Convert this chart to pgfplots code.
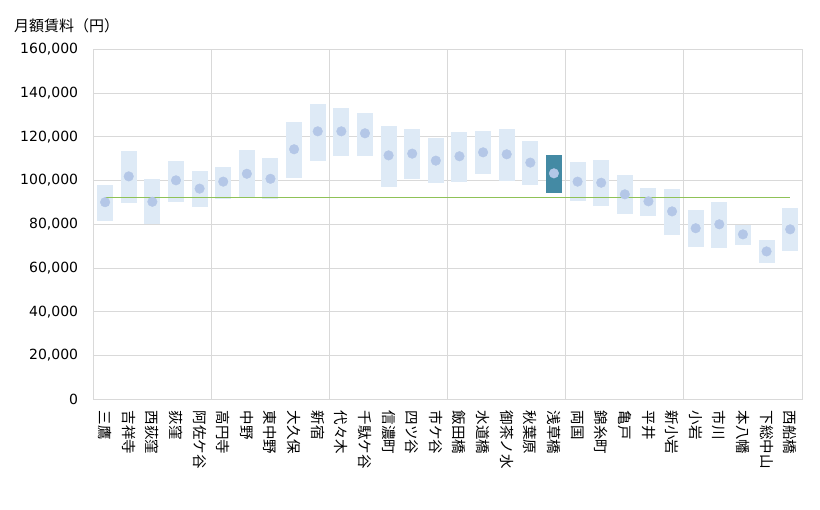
\documentclass[border=0pt]{standalone}
\usepackage{pgfplots}
\pgfplotsset{compat=1.18}
\usepackage{pgfplotstable}
\usepackage{fontspec}
\setmainfont{DejaVu Sans}
\newfontfamily\cjk{Noto Sans CJK JP}

\definecolor{barlight}{HTML}{DEEAF6}
\definecolor{dotblue}{HTML}{B4C7E7}
\definecolor{hibar}{HTML}{448AA4}
\definecolor{avgline}{HTML}{8FC257}
\definecolor{gridgray}{HTML}{D9D9D9}

%% lo / hi = range of rents, mean = dot
\pgfplotstableread{
x lo hi mean
0 81600 98000 90100
1 89900 113500 101900
2 80000 100700 90300
3 90300 108900 100100
4 88000 104400 96300
5 91700 106200 99500
6 92300 114000 103100
7 91700 110300 100800
8 101300 126800 114300
9 108900 135000 122500
10 111400 133200 122500
11 111400 130900 121600
12 97100 124900 111500
13 100700 123600 112300
14 99000 119400 109100
15 99300 122200 111100
16 103100 122700 112900
17 99900 123600 112000
18 98100 117900 108200
20 90800 108500 99500
21 88500 109400 99000
22 84800 102500 93700
23 83900 96600 90500
24 75200 96100 85900
25 69800 86500 78200
26 69300 90200 80000
27 70700 79800 75400
28 62400 72800 67600
29 67900 87500 77700
}\rent

%% highlighted station
\pgfplotstableread{
x lo hi mean
19 94400 111700 103300
}\hilite

\begin{document}
\begin{tikzpicture}
\path[use as bounding box] (0,0) rectangle (820pt,510pt);
\node[anchor=west, inner sep=0pt, font=\cjk\fontsize{15}{15}\selectfont] at (14pt,484pt) {月額賃料（円）};
\begin{axis}[
    at={(93.3pt,110.7pt)}, anchor=south west,
    scale only axis, width=708.7pt, height=350pt,
    xmin=-0.5, xmax=29.5,
    ymin=0, ymax=160000,
    xtick={0,...,29},
    xticklabels={三鷹,吉祥寺,西荻窪,荻窪,阿佐ケ谷,高円寺,中野,東中野,大久保,新宿,代々木,千駄ケ谷,信濃町,四ツ谷,市ケ谷,飯田橋,水道橋,御茶ノ水,秋葉原,浅草橋,両国,錦糸町,亀戸,平井,新小岩,小岩,市川,本八幡,下総中山,西船橋},
    minor xtick={4.5,9.5,14.5,19.5,24.5},
    xminorgrids=true,
    ytick={0,20000,...,160000},
    ymajorgrids=true,
    major tick length=0pt, minor tick length=0pt,
    grid style={gridgray, line width=0.8pt},
    minor grid style={gridgray, line width=0.8pt},
    axis line style={gridgray, line width=0.8pt},
    scaled y ticks=false,
    yticklabel style={/pgf/number format/fixed, /pgf/number format/1000 sep={,},
        /pgf/number format/assume math mode=true,
        font=\fontsize{14}{14}\selectfont, inner sep=0pt},
    yticklabel shift=15pt,
    xticklabel style={font=\cjk\fontsize{14.5}{14.5}\selectfont, rotate=-90, anchor=west, inner sep=0pt, xshift=1.5pt},
    xticklabel shift=10pt,
]
%% range bars
\addplot[draw=none, mark=none, forget plot,
    error bars/.cd, y dir=both, y explicit, error mark=none,
    error bar style={draw=barlight, line width=16pt}]
    table[x=x, y=mean, y error plus expr=\thisrow{hi}-\thisrow{mean}, y error minus expr=\thisrow{mean}-\thisrow{lo}] {\rent};
\addplot[draw=none, mark=none, forget plot,
    error bars/.cd, y dir=both, y explicit, error mark=none,
    error bar style={draw=hibar, line width=16pt}]
    table[x=x, y=mean, y error plus expr=\thisrow{hi}-\thisrow{mean}, y error minus expr=\thisrow{mean}-\thisrow{lo}] {\hilite};
%% means
\addplot[only marks, mark=*, mark size=4.8pt, color=dotblue]
    table[x=x, y=mean] {\rent};
\addplot[only marks, mark=*, mark size=4.8pt, color=dotblue]
    table[x=x, y=mean] {\hilite};
%% overall average
\addplot[avgline, line width=1.3pt, mark=none] coordinates {(0,92300) (29,92300)};
\end{axis}
\end{tikzpicture}
\end{document}
